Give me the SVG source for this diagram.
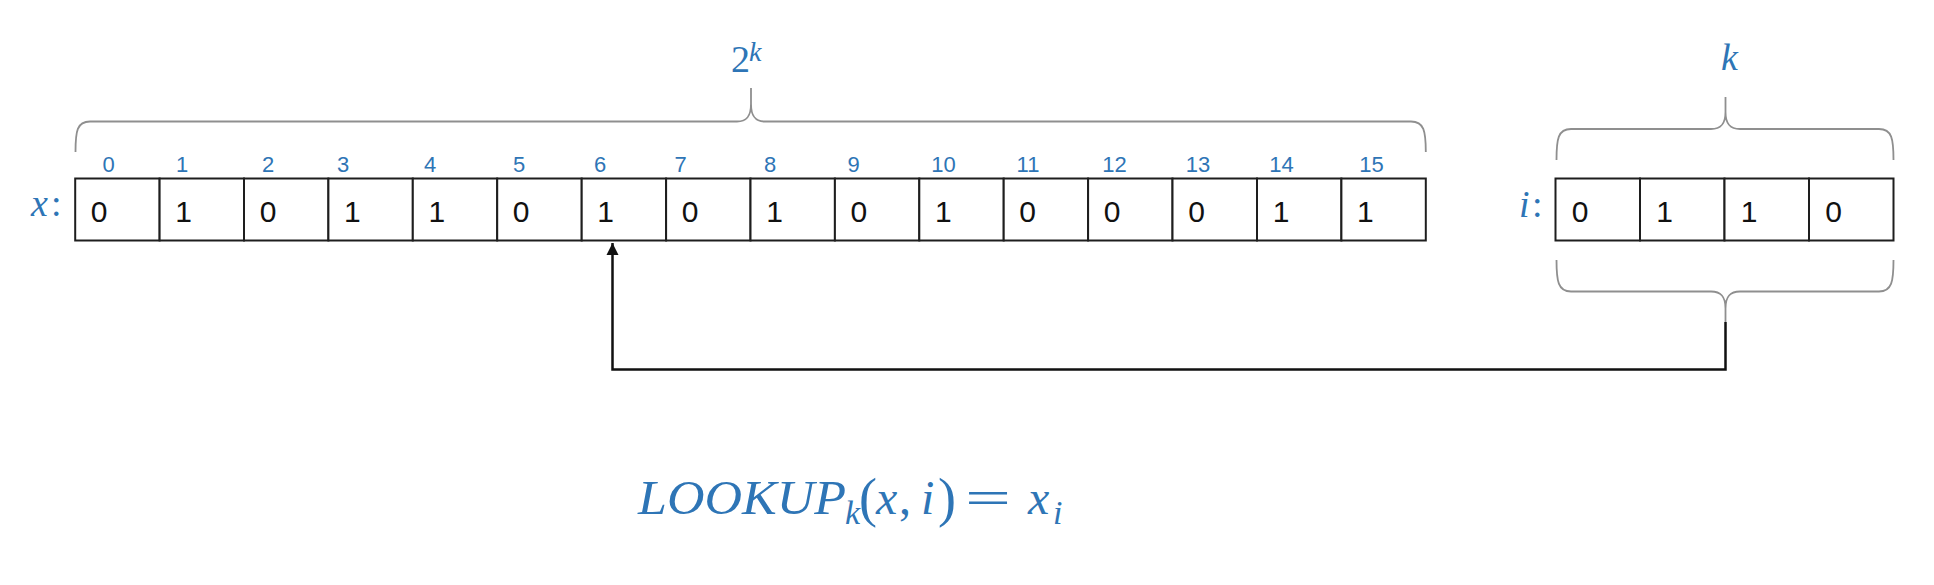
<svg xmlns="http://www.w3.org/2000/svg" width="1934" height="585" viewBox="0 0 1934 585">
<style>
.cell{fill:#fff;stroke:#1e1e1e;stroke-width:2}
.val{font-family:"Liberation Sans",Arial,sans-serif;font-size:30px;fill:#111;text-anchor:middle}
.idx{font-family:"Liberation Sans",Arial,sans-serif;font-size:22px;fill:#2E75B6;text-anchor:middle}
.math{font-family:"Liberation Serif","Times New Roman",serif;font-style:italic;fill:#2E75B6}
.up{font-family:"Liberation Serif","Times New Roman",serif;font-style:normal;fill:#2E75B6}
.brace{fill:none;stroke:#8f8f8f;stroke-width:1.8}
.conn{fill:none;stroke:#111;stroke-width:2.5}
</style>
<defs>
<marker id="arrow" markerUnits="userSpaceOnUse" markerWidth="14" markerHeight="14" viewBox="0 0 14 14" refX="12" refY="7" orient="auto">
<path d="M0,1 L12,7 L0,13 Z" fill="#111"/>
</marker>
</defs>

<g id="label-x">
<text class="math" x="31" y="216" font-size="38">x</text>
<text class="up" x="51" y="216" font-size="38">:</text>
</g>

<g id="array-x">
<rect class="cell" x="75.2" y="178.5" width="84.4" height="62"/>
<rect class="cell" x="159.6" y="178.5" width="84.4" height="62"/>
<rect class="cell" x="244.0" y="178.5" width="84.4" height="62"/>
<rect class="cell" x="328.4" y="178.5" width="84.4" height="62"/>
<rect class="cell" x="412.8" y="178.5" width="84.4" height="62"/>
<rect class="cell" x="497.2" y="178.5" width="84.5" height="62"/>
<rect class="cell" x="581.7" y="178.5" width="84.4" height="62"/>
<rect class="cell" x="666.1" y="178.5" width="84.4" height="62"/>
<rect class="cell" x="750.5" y="178.5" width="84.4" height="62"/>
<rect class="cell" x="834.9" y="178.5" width="84.4" height="62"/>
<rect class="cell" x="919.3" y="178.5" width="84.4" height="62"/>
<rect class="cell" x="1003.7" y="178.5" width="84.4" height="62"/>
<rect class="cell" x="1088.1" y="178.5" width="84.4" height="62"/>
<rect class="cell" x="1172.5" y="178.5" width="84.5" height="62"/>
<rect class="cell" x="1257.0" y="178.5" width="84.4" height="62"/>
<rect class="cell" x="1341.4" y="178.5" width="84.4" height="62"/>
<text class="val" x="99.2" y="221.5">0</text>
<text class="val" x="183.6" y="221.5">1</text>
<text class="val" x="268.0" y="221.5">0</text>
<text class="val" x="352.4" y="221.5">1</text>
<text class="val" x="436.8" y="221.5">1</text>
<text class="val" x="521.2" y="221.5">0</text>
<text class="val" x="605.7" y="221.5">1</text>
<text class="val" x="690.1" y="221.5">0</text>
<text class="val" x="774.5" y="221.5">1</text>
<text class="val" x="858.9" y="221.5">0</text>
<text class="val" x="943.3" y="221.5">1</text>
<text class="val" x="1027.7" y="221.5">0</text>
<text class="val" x="1112.1" y="221.5">0</text>
<text class="val" x="1196.5" y="221.5">0</text>
<text class="val" x="1281.0" y="221.5">1</text>
<text class="val" x="1365.4" y="221.5">1</text>
</g>

<g id="indices">
<text class="idx" x="108.7" y="171.5">0</text>
<text class="idx" x="182" y="171.5">1</text>
<text class="idx" x="268" y="171.5">2</text>
<text class="idx" x="343" y="171.5">3</text>
<text class="idx" x="430" y="171.5">4</text>
<text class="idx" x="519" y="171.5">5</text>
<text class="idx" x="600" y="171.5">6</text>
<text class="idx" x="680.5" y="171.5">7</text>
<text class="idx" x="770" y="171.5">8</text>
<text class="idx" x="853.5" y="171.5">9</text>
<text class="idx" x="943.5" y="171.5">10</text>
<text class="idx" x="1028" y="171.5">11</text>
<text class="idx" x="1114.5" y="171.5">12</text>
<text class="idx" x="1198" y="171.5">13</text>
<text class="idx" x="1281.5" y="171.5">14</text>
<text class="idx" x="1371.5" y="171.5">15</text>
</g>

<g id="brace-x">
<path class="brace" d="M75.5,152 C75.5,131 77,121.5 90,121.5 L737,121.5 C747,121.5 751,116 751,104 L751,88 M751,104 C751,116 755,121.5 765,121.5 L1411,121.5 C1424,121.5 1425.8,131 1425.8,152"/>
<text class="up" x="731" y="71.5" font-size="38">2</text>
<text class="math" x="749" y="61" font-size="28">k</text>
</g>

<g id="label-i">
<text class="math" x="1519" y="217" font-size="38">i</text>
<text class="up" x="1532" y="217" font-size="38">:</text>
</g>

<g id="array-i">
<rect class="cell" x="1555.5" y="178.5" width="84.5" height="62"/>
<rect class="cell" x="1640" y="178.5" width="84.5" height="62"/>
<rect class="cell" x="1724.5" y="178.5" width="84.5" height="62"/>
<rect class="cell" x="1809" y="178.5" width="84.5" height="62"/>
<text class="val" x="1580" y="221.5">0</text>
<text class="val" x="1664.5" y="221.5">1</text>
<text class="val" x="1749" y="221.5">1</text>
<text class="val" x="1833.5" y="221.5">0</text>
</g>

<g id="brace-i-top">
<path class="brace" d="M1556.5,160 C1556.5,139 1558,129 1571,129 L1711,129 C1721,129 1725.5,124 1725.5,112 L1725.5,97 M1725.5,112 C1725.5,124 1730,129 1740,129 L1879,129 C1892,129 1893.5,139 1893.5,160"/>
<text class="math" x="1721" y="70" font-size="38">k</text>
</g>

<g id="brace-i-bottom">
<path class="brace" d="M1556.5,260 C1556.5,281 1558,291.5 1571,291.5 L1711,291.5 C1721,291.5 1725.5,296.5 1725.5,308.5 L1725.5,322 M1725.5,308.5 C1725.5,296.5 1730,291.5 1740,291.5 L1879,291.5 C1892,291.5 1893.5,281 1893.5,260"/>
</g>

<g id="connectors">
<path class="conn" d="M1725.5,322 L1725.5,369.5 L612.5,369.5 L612.5,243" marker-end="url(#arrow)"/>
</g>

<g id="formula">
<text class="math" x="638" y="514" font-size="48" textLength="208" lengthAdjust="spacingAndGlyphs">LOOKUP</text>
<text class="math" x="845" y="524" font-size="34">k</text>
<text class="up" x="859" y="516" font-size="54">(</text>
<text class="math" x="876" y="514" font-size="48">x</text>
<text class="up" x="899" y="514" font-size="48">,</text>
<text class="math" x="921" y="514" font-size="48">i</text>
<text class="up" x="938" y="516" font-size="54">)</text>
<text class="up" x="965" y="514" font-size="48" textLength="46" lengthAdjust="spacingAndGlyphs">=</text>
<text class="math" x="1028" y="514" font-size="48">x</text>
<text class="math" x="1053" y="524" font-size="34">i</text>
</g>
</svg>
